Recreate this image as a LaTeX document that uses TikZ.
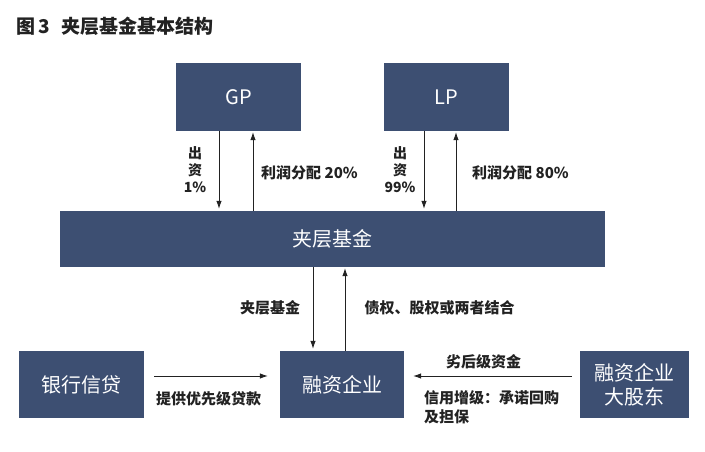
\documentclass[tikz,border=0pt]{standalone}
\usepackage{fontspec}
\setmainfont{Noto Sans CJK SC}
\usetikzlibrary{arrows.meta}
\definecolor{boxblue}{HTML}{3D4F72}
\definecolor{ink}{HTML}{222222}
\begin{document}
\begin{tikzpicture}[x=1pt,y=-1pt,
  box/.style={fill=boxblue, text=white, inner sep=0pt, align=center,
    font=\fontsize{20}{24}\selectfont},
  lbl/.style={font=\bfseries\fontsize{15}{17}\selectfont, inner sep=0pt, text=ink},
  arr/.style={-{Latex[length=8pt,width=5.5pt]}, line width=0.8pt, draw=ink}]
\useasboundingbox[fill=white] (0,0) rectangle (705,452);
\node[anchor=west, inner sep=0pt, text=ink, font=\bfseries\fontsize{19}{21}\selectfont] (title) at (16,26) {图\,3\hspace{12pt}夹层基金基本结构};
% boxes
\node[box, minimum width=125pt, minimum height=68pt] (gp) at (238.5,97) {GP};
\node[box, minimum width=125pt, minimum height=68pt] (lp) at (446.5,97) {LP};
\node[box, minimum width=545pt, minimum height=56pt] (fund) at (332.5,239) {夹层基金};
\node[box, minimum width=125pt, minimum height=67pt] (bank) at (81.5,384.5) {银行信贷};
\node[box, minimum width=124pt, minimum height=67pt] (firm) at (342,384.5) {融资企业};
\node[box, minimum width=109pt, minimum height=67pt] (holder) at (634.5,384.5) {融资企业\\大股东};
% GP arrows
\draw[arr, shorten >=2pt] ([xshift=-19.5pt]gp.south) -- ([xshift=-19.5pt]gp.south |- fund.north);
\draw[arr, shorten >=1pt] ([xshift=14.5pt]gp.south |- fund.north) -- ([xshift=14.5pt]gp.south);
% LP arrows
\draw[arr, shorten >=2pt] ([xshift=-22.5pt]lp.south) -- ([xshift=-22.5pt]lp.south |- fund.north);
\draw[arr, shorten >=1pt] ([xshift=9.5pt]lp.south |- fund.north) -- ([xshift=9.5pt]lp.south);
% fund - firm arrows
\draw[arr, shorten >=2pt] ([xshift=-29pt]firm.north |- fund.south) -- ([xshift=-29pt]firm.north);
\draw[arr, shorten >=1pt] ([xshift=3pt]firm.north) -- ([xshift=3pt]firm.north |- fund.south);
% bottom arrows
\draw[arr, shorten <=10pt, shorten >=12pt] ([yshift=8.5pt]bank.east) -- ([yshift=8.5pt]firm.west);
\draw[arr, shorten <=8pt, shorten >=9pt] ([yshift=8.5pt]holder.west) -- ([yshift=8.5pt]firm.east);
% labels
\node[lbl, align=center, font=\bfseries\fontsize{14}{17}\selectfont] (l1) at (195,170) {出\\资\\1\%};
\node[lbl, anchor=west] (l2) at (261,173) {利润分配 20\%};
\node[lbl, align=center, font=\bfseries\fontsize{14}{17}\selectfont] (l3) at (400,170) {出\\资\\99\%};
\node[lbl, anchor=west] (l4) at (472,173) {利润分配 80\%};
\node[lbl] (l5) at (270,308) {夹层基金};
\node[lbl] (l6) at (439.5,308) {债权、股权或两者结合};
\node[lbl] (l7) at (208.5,399) {提供优先级贷款};
\node[lbl] (l8) at (483.5,362) {劣后级资金};
\node[lbl, anchor=west, align=left, font=\bfseries\fontsize{15}{19}\selectfont] (l9) at (424,407.5) {信用增级：承诺回购\\及担保};
\end{tikzpicture}
\end{document}
